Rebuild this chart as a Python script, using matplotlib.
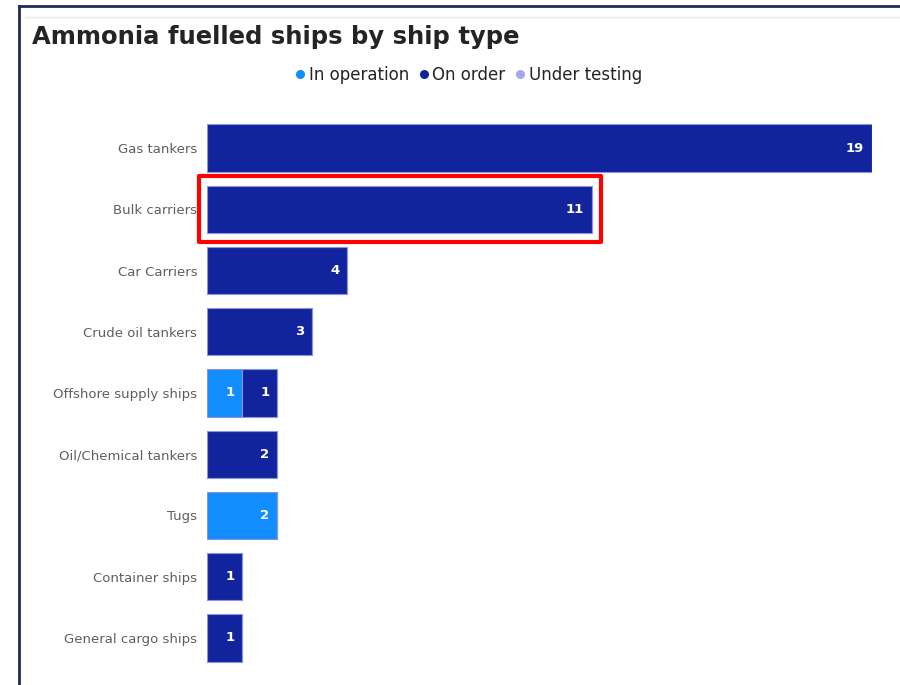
import numpy as np
import matplotlib.pyplot as plt
from matplotlib.lines import Line2D
from matplotlib.patches import Rectangle

# ship types, top to bottom
categories = ["Gas tankers", "Bulk carriers", "Car Carriers", "Crude oil tankers",
              "Offshore supply ships", "Oil/Chemical tankers", "Tugs",
              "Container ships", "General cargo ships"]
in_operation = [0, 0, 0, 0, 1, 0, 2, 0, 0]
on_order = [19, 11, 4, 3, 1, 2, 0, 1, 1]
under_testing = [0, 0, 0, 0, 0, 0, 0, 0, 0]

series = [("In operation", in_operation, "#118DFF"),
          ("On order", on_order, "#12239E"),
          ("Under testing", under_testing, "#A3A9EC")]

W, H = 900, 685
fig = plt.figure(figsize=(W / 100, H / 100), dpi=100)
fig.patch.set_facecolor("white")

def px(x0, y0, x1, y1):
    # pixel box (top-left origin) -> figure fraction rect
    return [x0 / W, 1 - y1 / H, (x1 - x0) / W, (y1 - y0) / H]

# outer frame of the report page
fig.add_artist(Line2D([19 / W, 1], [1 - 6 / H, 1 - 6 / H], color="#1F2A5A", lw=2))
fig.add_artist(Line2D([19 / W, 19 / W], [0, 1 - 6 / H], color="#1F2A5A", lw=2))
fig.add_artist(Line2D([25 / W, 1], [1 - 17 / H, 1 - 17 / H], color="#EAEAEA", lw=1))

ax = fig.add_axes(px(207, 117.4, 872, 668.6))
y = np.arange(len(categories))
left = np.zeros(len(categories))
for name, vals, col in series:
    vals = np.array(vals, dtype=float)
    ax.barh(y, vals, left=left, height=0.77, color=col,
            edgecolor="#8C95D8", linewidth=0.8)
    for i, v in enumerate(vals):
        if v > 0:
            ax.text(left[i] + v - 0.22, i, f"{int(v)}", color="white",
                    fontsize=9.5, fontweight="bold", ha="right", va="center")
    left += vals

ax.set_xlim(0, 19)
ax.set_ylim(len(categories) - 0.5, -0.5)
ax.set_yticks(y)
ax.set_yticklabels(categories, fontsize=9.5, color="#605E5C")
ax.tick_params(axis="y", length=0, pad=7)
ax.set_xticks([])
for s in ax.spines.values():
    s.set_visible(False)

# highlight box around Bulk carriers
ax.add_patch(Rectangle((-0.23, 1 - 0.54), 11.49, 1.08, fill=False,
                       edgecolor="#FF0000", linewidth=3, joinstyle="round",
                       clip_on=False, zorder=5))

fig.text(32 / W, 1 - 37 / H, "Ammonia fuelled ships by ship type",
         fontsize=17.5, fontweight="bold", color="#252423", va="center")

handles = [Line2D([], [], marker="o", linestyle="none", markersize=5.5,
                  markerfacecolor=c, markeredgecolor=c) for _, _, c in series]
fig.legend(handles, [n for n, _, _ in series], loc="center",
           bbox_to_anchor=(467 / W, 1 - 75 / H), ncol=3, frameon=False,
           fontsize=12, handletextpad=0.0, columnspacing=0.4,
           handlelength=1.0, labelcolor="#252423")

fig.savefig("out.png", dpi=100)
